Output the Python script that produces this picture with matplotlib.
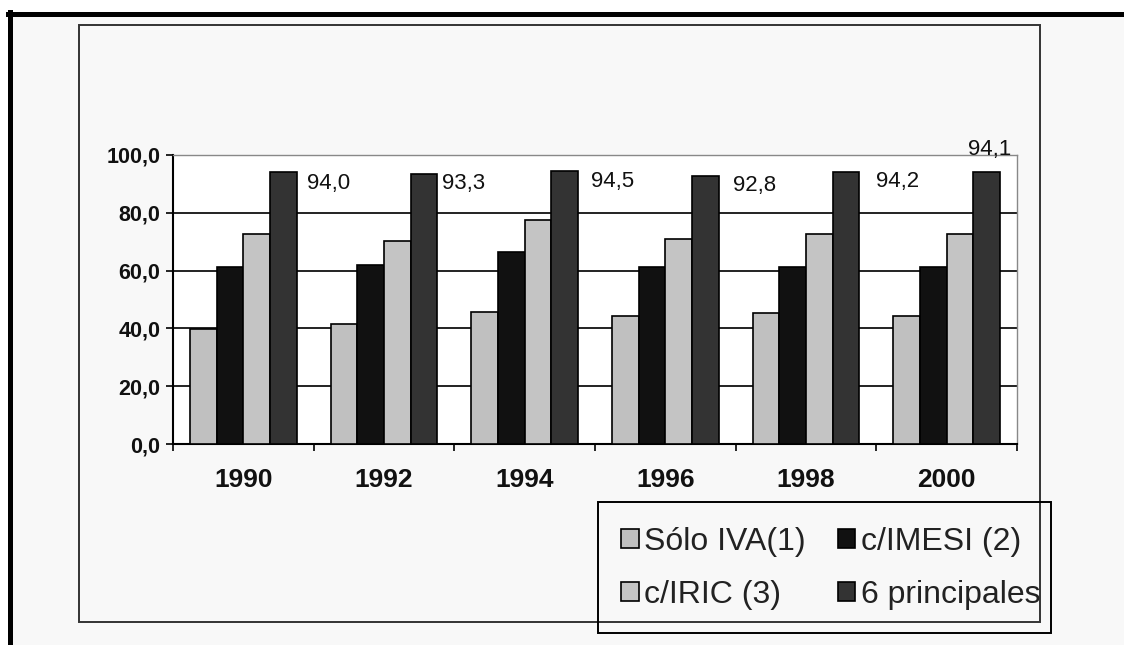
import matplotlib
matplotlib.use("Agg")
import matplotlib.pyplot as plt
import numpy as np
from matplotlib.patches import Rectangle
from matplotlib.lines import Line2D

years = ["1990", "1992", "1994", "1996", "1998", "2000"]
solo_iva = [39.8, 41.5, 45.8, 44.4, 45.2, 44.4]
c_imesi = [61.4, 62.0, 66.3, 61.4, 61.4, 61.4]
c_iric = [72.7, 70.3, 77.5, 70.9, 72.7, 72.7]
seis_principales = [94.0, 93.3, 94.5, 92.8, 94.2, 94.1]
value_labels = ["94,0", "93,3", "94,5", "92,8", "94,2", "94,1"]

series_names = ["Sólo IVA(1)", "c/IMESI (2)", "c/IRIC (3)", "6 principales"]
series_colors = ["#c0c0c0", "#111111", "#c4c4c4", "#333333"]

# where Excel dropped the value labels (x offset from category, y in data units)
label_dx = [0.45, 0.41, 0.47, 0.48, 0.50, 0.15]
label_y = [90.0, 90.0, 91.0, 89.5, 90.8, 102.0]

plt.rcParams["font.family"] = ["Liberation Sans", "DejaVu Sans"]
narrow = ["Liberation Sans Narrow", "Liberation Sans", "DejaVu Sans"]

W, H = 1124, 645
fig = plt.figure(figsize=(W / 100, H / 100), dpi=100, facecolor="white")

# background inside the outer border
fig.patches.append(Rectangle((10 / W, 0), 1, 1 - 14 / H, transform=fig.transFigure,
                             facecolor="#f8f8f8", edgecolor="none", zorder=-10))

ax = fig.add_axes([173 / W, 1 - 444 / H, (1017 - 173) / W, (444 - 155) / H])
ax.set_facecolor("white")

x = np.arange(len(years))
bw = 0.19
all_series = [solo_iva, c_imesi, c_iric, seis_principales]
handles = []
for k, vals in enumerate(all_series):
    bars = ax.bar(x + (k - 1.5) * bw, vals, width=bw, color=series_colors[k],
                  edgecolor="black", linewidth=1.2, zorder=3)
    handles.append(bars)

for i, lab in enumerate(value_labels):
    ax.text(i + label_dx[i], label_y[i], lab, fontsize=16, family=narrow,
            ha="left", va="center", color="#111111", clip_on=False, zorder=5)

ax.set_xlim(-0.5, len(years) - 0.5)
ax.set_ylim(0, 100)
ax.set_yticks(np.arange(0, 101, 20))
ax.set_yticklabels(["0,0", "20,0", "40,0", "60,0", "80,0", "100,0"])
for y in [20, 40, 60, 80]:
    ax.axhline(y, color="#111111", lw=1.3, zorder=1)

ax.set_xticks(np.arange(len(years) + 1) - 0.5)
ax.set_xticklabels([])
ax.set_xticks(x, minor=True)
ax.set_xticklabels(years, minor=True)
ax.tick_params(axis="x", which="major", length=5, width=1.2, color="black", direction="out")
ax.tick_params(axis="x", which="minor", length=0, pad=17, labelsize=19)
ax.tick_params(axis="y", length=5, width=1.2, pad=4, labelsize=15.5)
for t in ax.get_xticklabels(minor=True) + ax.get_yticklabels():
    t.set_fontweight("bold")
    t.set_family(narrow)
    t.set_color("#111111")

ax.spines["left"].set_linewidth(1.5)
ax.spines["bottom"].set_linewidth(1.5)
ax.spines["top"].set_color("#888888")
ax.spines["right"].set_color("#888888")
ax.spines["top"].set_linewidth(1.0)
ax.spines["right"].set_linewidth(1.0)

# chart frame, legend box and outer picture border
fig.patches.append(Rectangle((79 / W, 1 - 622 / H), (1040 - 79) / W, (622 - 25) / H,
                             transform=fig.transFigure, facecolor="none",
                             edgecolor="#333333", lw=1.4, zorder=2))
fig.patches.append(Rectangle((598 / W, 1 - 633 / H), (1051 - 598) / W, (633 - 502) / H,
                             transform=fig.transFigure, facecolor="none",
                             edgecolor="black", lw=1.4, zorder=2))
fig.lines.append(Line2D([8 / W, 1], [1 - 14 / H, 1 - 14 / H], transform=fig.transFigure,
                        color="black", lw=3.6))
fig.lines.append(Line2D([10 / W, 10 / W], [0, 1 - 12 / H], transform=fig.transFigure,
                        color="black", lw=3.6))

order = [0, 2, 1, 3]
leg = fig.legend([handles[k] for k in order], [series_names[k] for k in order],
                 ncol=2, loc="upper left", bbox_to_anchor=(621 / W, 1 - 527 / H),
                 borderaxespad=0, borderpad=0, fontsize=23, frameon=False,
                 handlelength=0.56, handleheight=0.56, handletextpad=0.16,
                 labelspacing=0.72, columnspacing=1.0)
for t in leg.get_texts():
    t.set_color("#222222")

fig.savefig("out.png", dpi=100, facecolor=fig.get_facecolor())
